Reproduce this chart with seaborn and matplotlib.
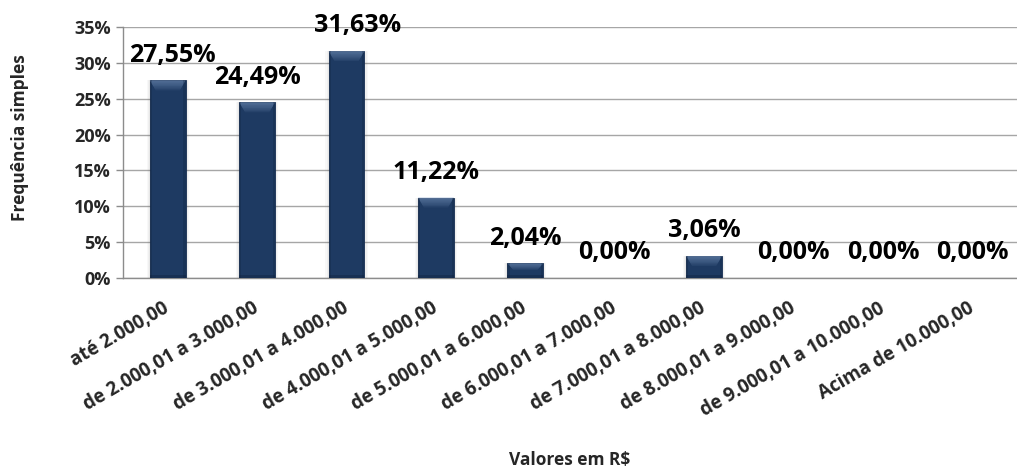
import matplotlib
matplotlib.use("Agg")
import matplotlib.pyplot as plt
import seaborn as sns
import pandas as pd
import numpy as np

categories = [
    "até 2.000,00",
    "de 2.000,01 a 3.000,00",
    "de 3.000,01 a 4.000,00",
    "de 4.000,01 a 5.000,00",
    "de 5.000,01 a 6.000,00",
    "de 6.000,01 a 7.000,00",
    "de 7.000,01 a 8.000,00",
    "de 8.000,01 a 9.000,00",
    "de 9.000,01 a 10.000,00",
    "Acima de 10.000,00",
]
frequencia = [27.55, 24.49, 31.63, 11.22, 2.04, 0.00, 3.06, 0.00, 0.00, 0.00]
y_ticks = [0, 5, 10, 15, 20, 25, 30, 35]

sns.set_theme(style="white")
plt.rcParams["font.family"] = ["Open Sans", "DejaVu Sans"]

df = pd.DataFrame({"faixa": categories, "freq": frequencia})

fig = plt.figure(figsize=(10.17, 4.72), dpi=100)
ax = fig.add_axes([0.121, 0.411, 0.879, 0.532])

bar_color = "#1e3a62"
sns.barplot(data=df, x="faixa", y="freq", color=bar_color, width=0.40,
            saturation=1, ax=ax, edgecolor="#172f52", linewidth=0.6, zorder=3)

px_per_unit = 0.532 * 4.72 * 100 / 35.0  # vertical pixels per percentage point

# soft shadow, bevelled top and darker foot on every bar
for patch in list(ax.patches):
    x0 = patch.get_x()
    w = patch.get_width()
    h = patch.get_height()
    if h <= 0:
        continue
    for k, a in enumerate([0.06, 0.05, 0.04]):
        grow = 0.012 * (k + 1)
        ax.add_patch(plt.Rectangle((x0 - grow, 0), w + 2 * grow, h, facecolor="#606060",
                                   alpha=a, lw=0, zorder=2.5))
    cap = min(10 / px_per_unit, h * 0.45)
    steps = 7
    for s in range(steps):
        depth = cap * (s + 1) / steps
        inset = 0.16 * w * (s + 1) / steps
        ax.add_patch(plt.Polygon([(x0, h), (x0 + w, h),
                                  (x0 + w - inset, h - depth), (x0 + inset, h - depth)],
                                 closed=True, facecolor="#86a4cc", alpha=0.09, lw=0, zorder=4))
    foot = min(3 / px_per_unit, h * 0.2)
    ax.add_patch(plt.Rectangle((x0, 0), w, foot, facecolor="#0e1f38", alpha=0.35, lw=0, zorder=4))
    ax.add_patch(plt.Rectangle((x0, 0), w * 0.06, h, facecolor="#0e1f38", alpha=0.25, lw=0, zorder=4))
    ax.add_patch(plt.Rectangle((x0 + w * 0.94, 0), w * 0.06, h, facecolor="#0e1f38", alpha=0.25, lw=0, zorder=4))

ax.set_ylim(0, 35)
ax.set_xlim(-0.5, len(categories) - 0.5)
ax.set_yticks(y_ticks)
ax.set_yticklabels([f"{t}%" for t in y_ticks], fontsize=13, fontweight="bold")
ax.yaxis.grid(True, color="#a6a6a6", linewidth=1.0, zorder=0)
ax.set_axisbelow(True)

# category labels at centres, tick marks at the boundaries
ax.set_xticks(range(len(categories)))
ax.set_xticklabels(categories, rotation=30, ha="right", va="center",
                   rotation_mode="anchor", fontsize=13.5, fontweight="bold")
ax.tick_params(axis="x", which="major", length=0, pad=21)
ax.set_xticks(np.arange(-0.5, len(categories), 1.0), minor=True)
ax.tick_params(axis="x", which="minor", length=5, color="#8c8c8c", width=1)
ax.tick_params(axis="y", which="major", length=5, color="#8c8c8c", width=1, left=True, pad=4)

for side in ["top", "right"]:
    ax.spines[side].set_visible(False)
for side in ["left", "bottom"]:
    ax.spines[side].set_color("#8c8c8c")
    ax.spines[side].set_linewidth(1.0)

label_nudge = {0: 3, 2: 8}
for i, v in enumerate(frequencia):
    ax.annotate(f"{v:.2f}%".replace(".", ","), (i, v),
                xytext=(label_nudge.get(i, 0), 13.5),
                textcoords="offset points", ha="center", va="baseline",
                fontsize=18, fontweight="bold", color="black", zorder=5)

ax.set_xlabel("Valores em R$", fontsize=12.5, fontweight="bold")
ax.xaxis.label.set_va("center")
ax.xaxis.set_label_coords(0.5, -0.725)
ax.set_ylabel("Frequência simples", fontsize=12.5, fontweight="bold")
ax.yaxis.label.set_va("center")
ax.yaxis.set_label_coords(-0.115, 0.56)

fig.savefig("out.png", dpi=100)
